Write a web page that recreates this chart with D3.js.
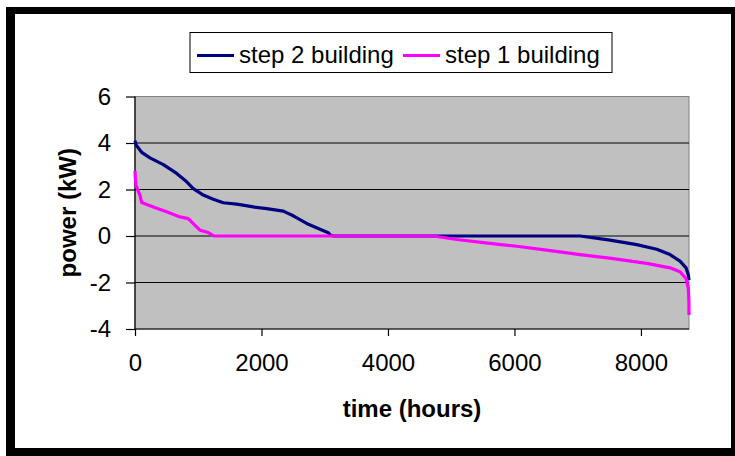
<!DOCTYPE html>
<html><head><meta charset="utf-8">
<script src="https://cdn.jsdelivr.net/npm/d3@7"></script>
<style>
html,body{margin:0;padding:0;background:#fff;}
text{font-family:"Liberation Sans",Arial,sans-serif;}
</style></head>
<body><svg id="c" width="735" height="456"></svg>
<script>
// Data (hours sorted, load duration curves)
const step2Hours  = [0,20,106,237,448,659,790,922,1080,1238,1396,1608,1871,2082,2345,2503,2714,2925,3057,3100,3150,7037,7511,7933,8250,8460,8618,8713,8750,8760];
const step2Power  = [4.1,3.9,3.6,3.36,3.07,2.69,2.4,2.04,1.76,1.58,1.43,1.37,1.25,1.18,1.07,0.87,0.54,0.29,0.14,0.02,0,0,-0.18,-0.37,-0.57,-0.8,-1.08,-1.37,-1.68,-1.9];
const step1Hours  = [0,5,16,79,106,290,501,712,843,949,1028,1159,1250,4717,5087,5613,6035,6510,7037,7564,8091,8460,8618,8713,8750,8758,8760];
const step1Power  = [2.8,2.5,2.18,1.75,1.44,1.25,1.04,0.82,0.75,0.46,0.25,0.15,0,0,-0.15,-0.32,-0.44,-0.61,-0.8,-0.97,-1.18,-1.37,-1.54,-1.83,-2.26,-2.8,-3.4];
const seriesNames = ["step 2 building","step 1 building"];
const seriesColors = ["#000080","#ff00ff"];
const xTicks = [0,2000,4000,6000,8000];
const yTicks = [-4,-2,0,2,4,6];
const xTitle = "time (hours)";
const yTitle = "power (kW)";

const svg = d3.select("#c");
// outer frame
svg.append("rect").attr("x",6).attr("y",7).attr("width",729).attr("height",449).attr("fill","#000");
svg.append("rect").attr("x",15).attr("y",14).attr("width",716).attr("height",434).attr("fill","#fff");

const L=135,R=689,T=96.5,B=329;
const x = d3.scaleLinear().domain([0,8760]).range([L,R]);
const y = d3.scaleLinear().domain([-4,6]).range([B,T]);

svg.append("rect").attr("x",L).attr("y",T).attr("width",R-L).attr("height",B-T)
  .attr("fill","#c0c0c0").attr("stroke","#808080").attr("stroke-width",1);

// gridlines
svg.append("g").selectAll("line").data(yTicks.filter(v=>v>-4&&v<6)).join("line")
  .attr("x1",L).attr("x2",R).attr("y1",d=>y(d)).attr("y2",d=>y(d))
  .attr("stroke","#000").attr("stroke-width",1);

// axes
const fmt = d=>String(d);
const yAxis = svg.append("g").attr("transform",`translate(${L},0)`)
  .call(d3.axisLeft(y).tickValues(yTicks).tickSize(9).tickPadding(15).tickFormat(fmt));
const xAxis = svg.append("g").attr("transform",`translate(0,${B})`)
  .call(d3.axisBottom(x).tickValues(xTicks).tickSize(7).tickPadding(18).tickFormat(fmt));
[yAxis,xAxis].forEach(g=>{
  g.select(".domain").attr("stroke","#000").attr("stroke-width",1.2);
  g.selectAll(".tick line").attr("stroke","#000").attr("stroke-width",1.2);
  g.selectAll(".tick text").attr("font-size",24).attr("fill","#000")
    .attr("font-family","Liberation Sans, Arial, sans-serif");
});
xAxis.select(".domain").attr("d",`M${L},0H${R}`);
yAxis.select(".domain").attr("d",`M0,${B}V${T}`);

// lines
const line = d3.line().x(d=>x(d[0])).y(d=>y(d[1]));
const series = [d3.zip(step2Hours,step2Power), d3.zip(step1Hours,step1Power)];
svg.append("g").selectAll("path").data(series).join("path")
  .attr("d",line).attr("fill","none")
  .attr("stroke",(d,i)=>seriesColors[i]).attr("stroke-width",3.2)
  .attr("stroke-linejoin","round");

// axis titles
svg.append("text").attr("x",(L+R)/2).attr("y",417).attr("text-anchor","middle")
  .attr("font-size",24).attr("font-weight","bold").text(xTitle);
svg.append("text").attr("transform",`translate(76,${(T+B)/2}) rotate(-90)`)
  .attr("text-anchor","middle").attr("font-size",24).attr("font-weight","bold").text(yTitle);

// legend
const lg = svg.append("g");
lg.append("rect").attr("x",190).attr("y",32.5).attr("width",422).attr("height",40)
  .attr("fill","#fff").attr("stroke","#000").attr("stroke-width",1);
const lx = [197,403];
seriesNames.forEach((n,i)=>{
  lg.append("line").attr("x1",lx[i]).attr("x2",lx[i]+37).attr("y1",55.5).attr("y2",55.5)
    .attr("stroke",seriesColors[i]).attr("stroke-width",3.2);
  lg.append("text").attr("x",lx[i]+42).attr("y",63).attr("font-size",24).text(n);
});
</script></body></html>
